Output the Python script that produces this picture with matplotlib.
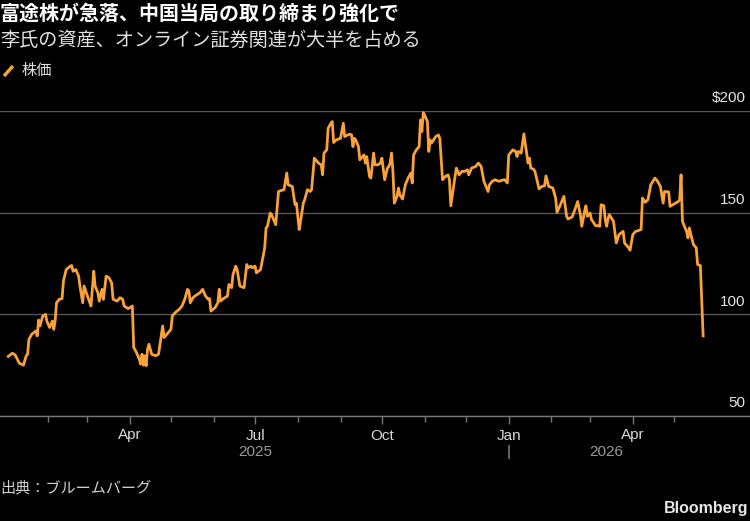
import numpy as np
import pandas as pd
import matplotlib
matplotlib.use('Agg')
import matplotlib.pyplot as plt
from matplotlib.lines import Line2D
from matplotlib.transforms import blended_transform_factory, ScaledTranslation

JP = ['Noto Sans CJK JP', 'DejaVu Sans']
NUM = ['Liberation Sans Narrow', 'Liberation Sans', 'DejaVu Sans']

# 株価 (days counted from 2025-01-01)
days = [2, 5, 7, 10, 13, 15, 16, 17, 19, 22, 23, 24, 25, 27, 29, 30, 32, 34, 35, 36,
        37, 39, 41, 42, 44, 47, 48, 49, 51, 53, 54, 56, 57, 59, 62, 64, 65, 67, 68, 70,
        71, 73, 75, 77, 78, 81, 83, 85, 86, 89, 92, 93, 95, 97, 98, 99, 100, 101, 102, 103,
        104, 106, 109, 111, 114, 115, 117, 120, 121, 123, 126, 128, 130, 132, 133, 134, 136, 138, 141, 143,
        145, 147, 148, 149, 152, 154, 155, 156, 158, 161, 162, 164, 165, 167, 168, 170, 173, 175, 176, 178,
        179, 181, 182, 185, 188, 189, 190, 192, 193, 196, 198, 200, 202, 204, 205, 208, 210, 211, 213, 214,
        216, 217, 219, 221, 222, 224, 227, 229, 230, 231, 233, 234, 236, 237, 238, 240, 243, 245, 246, 248,
        250, 251, 252, 253, 254, 256, 257, 260, 261, 262, 264, 265, 267, 268, 270, 272, 273, 275, 277, 278,
        279, 280, 281, 282, 284, 285, 286, 288, 290, 292, 294, 295, 296, 298, 300, 301, 302, 303, 304, 306,
        307, 308, 309, 312, 314, 315, 317, 319, 321, 322, 323, 325, 327, 329, 331, 333, 335, 336, 338, 341,
        343, 345, 347, 349, 350, 351, 353, 355, 358, 360, 362, 364, 365, 368, 370, 371, 372, 374, 376, 378,
        379, 380, 381, 383, 384, 387, 389, 391, 392, 394, 397, 399, 400, 402, 405, 407, 408, 411, 413, 415,
        417, 418, 420, 421, 422, 424, 425, 426, 428, 430, 431, 432, 434, 435, 436, 437, 438, 441, 443, 445,
        448, 449, 452, 453, 455, 457, 459, 461, 462, 464, 466, 468, 471, 473, 475, 477, 478, 481, 482, 486,
        488, 489, 490, 491, 492, 494, 495, 496, 498, 499, 501, 502, 504, 506]
price = [79.3, 80.9, 80.0, 76.0, 75.0, 79.6, 80.4, 87.7, 90.2, 91.8, 89.4, 97.2, 94.3, 99.2, 100.0, 96.7, 93.5, 96.7, 92.6, 96.7,
         105.7, 107.4, 107.7, 116.3, 122.0, 123.7, 124.0, 121.2, 122.0, 118.8, 113.9, 105.7, 113.9, 109.8, 104.1, 121.2, 113.9, 110.6, 106.5, 112.3,
         107.4, 118.8, 118.0, 115.5, 107.4, 106.5, 108.2, 107.4, 104.1, 102.8, 104.1, 83.7, 81.2, 78.0, 75.5, 80.4, 75.0, 79.6, 74.7, 82.8,
         85.3, 80.4, 79.6, 80.4, 94.3, 88.6, 90.2, 92.6, 99.2, 100.8, 102.5, 104.1, 107.4, 112.3, 111.5, 105.7, 108.2, 109.3, 110.6, 112.3,
         109.1, 107.4, 107.7, 101.6, 103.3, 105.7, 112.3, 106.5, 107.7, 109.0, 114.7, 113.1, 119.6, 123.7, 122.0, 113.9, 113.1, 124.5, 122.9, 123.7,
         122.9, 123.7, 120.4, 122.0, 132.7, 142.5, 143.3, 149.8, 149.0, 144.1, 160.4, 160.9, 161.3, 169.5, 163.7, 162.9, 153.9, 154.7, 141.7, 145.7,
         154.7, 156.4, 161.3, 160.4, 161.3, 176.8, 174.4, 173.5, 168.6, 179.3, 180.9, 191.5, 194.0, 194.8, 184.5, 185.8, 186.6, 194.0, 187.4, 188.2,
         188.6, 188.2, 182.5, 186.6, 185.8, 182.5, 176.0, 178.4, 174.4, 177.6, 167.8, 167.0, 179.3, 173.5, 173.5, 174.4, 176.8, 166.2, 171.9, 172.7,
         174.4, 179.3, 170.3, 154.7, 158.0, 162.1, 158.8, 156.7, 163.7, 167.0, 169.5, 164.6, 178.4, 180.9, 182.5, 195.6, 189.9, 199.2, 198.0, 194.8,
         180.1, 185.8, 184.2, 187.4, 188.2, 186.6, 166.2, 167.8, 168.6, 166.2, 153.4, 162.9, 171.9, 168.6, 170.3, 170.3, 171.1, 168.6, 171.9, 172.7,
         174.4, 172.7, 165.4, 162.1, 160.4, 163.7, 165.4, 166.2, 165.4, 165.9, 166.2, 164.6, 178.4, 180.9, 180.1, 177.6, 180.1, 179.3, 188.7, 179.3,
         174.4, 176.8, 171.9, 171.4, 170.3, 161.7, 162.9, 163.2, 168.1, 162.9, 162.1, 157.2, 150.2, 153.1, 158.0, 148.2, 146.9, 147.9, 151.5, 155.5,
         149.0, 143.3, 150.6, 153.4, 148.2, 149.8, 146.6, 145.7, 143.6, 143.6, 143.3, 153.9, 153.4, 146.6, 143.3, 146.9, 149.0, 145.7, 135.1, 139.2,
         140.8, 135.1, 132.7, 131.5, 139.2, 140.8, 141.2, 141.7, 157.2, 155.1, 156.4, 163.7, 167.0, 165.4, 162.9, 154.7, 160.4, 160.2, 153.1, 154.7,
         155.5, 156.4, 168.6, 145.7, 144.1, 140.8, 137.6, 142.5, 136.8, 134.3, 132.7, 124.5, 124.0, 89.4]

major_ticks = ['2025-04-01', '2025-07-01', '2025-10-01', '2026-01-01', '2026-04-01']
major_labels = ['Apr', 'Jul', 'Oct', 'Jan', 'Apr']
years = ['2025', '2026']
y_ticks = [50, 100, 150, 200]
y_labels = ['50', '100', '150', '$200']

title = '富途株が急落、中国当局の取り締まり強化で'
subtitle = '李氏の資産、オンライン証券関連が大半を占める'
series_name = '株価'
source = '出典：ブルームバーグ'

dates = np.datetime64('2025-01-01') + np.array(days).astype('timedelta64[D]')
dates = pd.to_datetime(dates)

W, H = 750, 521
fig = plt.figure(figsize=(W / 100, H / 100), dpi=100, facecolor='black')


def fx(px):
    return px / W


def fy(py):
    return 1 - py / H


ax = fig.add_axes([0, fy(416), 1, fy(111) - fy(416)])
ax.set_facecolor('black')

orange = '#f9a23a'
ax.plot(dates, price, color=orange, linewidth=2.0, solid_joinstyle='round', zorder=3)

ax.set_ylim(50, 200)
ax.set_xlim(pd.Timestamp('2024-12-28'), pd.Timestamp('2026-06-25'))

for s in ['top', 'left', 'right']:
    ax.spines[s].set_visible(False)
ax.spines['bottom'].set_color('#777777')
ax.spines['bottom'].set_linewidth(1.0)

# y axis: labels above gridlines at right
ax.yaxis.tick_right()
ax.set_yticks(y_ticks, y_labels)
ax.grid(axis='y', color='#555555', linewidth=1.0, zorder=1)
ax.tick_params(axis='y', length=0, pad=-3, labelcolor='#e6e6e6', labelsize=11)
offset = ScaledTranslation(0, 4 / 72, fig.dpi_scale_trans)
for lbl in ax.get_yticklabels():
    lbl.set_ha('right')
    lbl.set_va('bottom')
    lbl.set_family(NUM)
    lbl.set_transform(lbl.get_transform() + offset)

# x axis
major = pd.to_datetime(major_ticks)
minor = [d for d in pd.date_range('2025-02-01', '2026-05-01', freq='MS') if d not in major]
ax.set_xticks(major, major_labels)
ax.set_xticks(minor, minor=True)
ax.tick_params(axis='x', which='major', length=6, width=1, color='#777777',
               labelcolor='#d9d9d9', labelsize=11, pad=3)
ax.tick_params(axis='x', which='minor', length=4, width=1, color='#777777')
for lbl in ax.get_xticklabels():
    lbl.set_family(NUM)

trans = blended_transform_factory(ax.transData, fig.transFigure)
year_pos = [pd.Timestamp('2025-07-01'), dates[dates >= pd.Timestamp('2026-01-01')][0] +
            (dates[-1] - pd.Timestamp('2026-01-01')) / 2]
for yr, xp in zip(years, year_pos):
    ax.text(xp, fy(452), yr, transform=trans, ha='center', va='center',
            color='#9a9a9a', fontsize=11, family=NUM)
ax.text(pd.Timestamp('2026-01-01'), fy(452), '|', transform=trans, ha='center', va='center',
        color='#9a9a9a', fontsize=11, family=NUM)

# titles
fig.text(fx(0), fy(13), title, color='white', fontsize=14.4, fontweight='bold',
         family=JP, ha='left', va='center')
fig.text(fx(0), fy(40), subtitle, color='#e0e0e0', fontsize=13.8,
         family=JP, ha='left', va='center')

# legend
fig.add_artist(Line2D([fx(4), fx(13)], [fy(76), fy(66)], color=orange, linewidth=2.5,
                      solid_capstyle='butt'))
fig.text(fx(22), fy(71), series_name, color='#e0e0e0', fontsize=11,
         family=JP, ha='left', va='center')

fig.text(fx(0), fy(488), source, color='#d0d0d0', fontsize=10.9,
         family=JP, ha='left', va='center')
fig.text(fx(748), fy(508), 'Bloomberg', color='#e6e6e6', fontsize=11.5, fontweight='bold',
         family=['Liberation Sans', 'DejaVu Sans'], ha='right', va='center')

fig.savefig('out.png', dpi=100, facecolor='black')
